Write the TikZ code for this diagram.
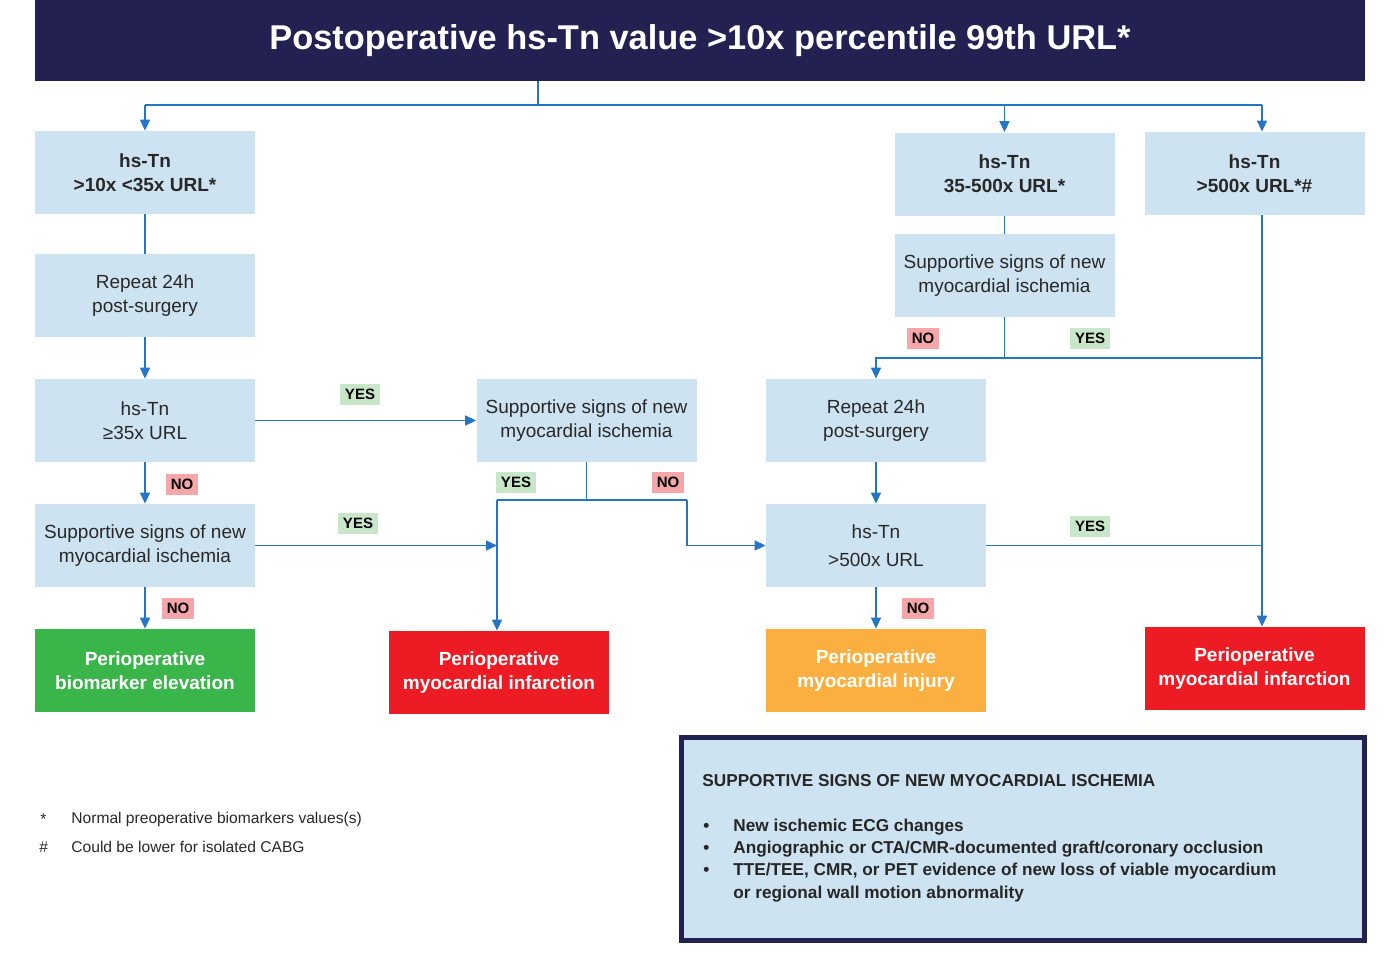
\documentclass[tikz,border=0pt]{standalone}
\usepackage{fontspec}
\setmainfont{Liberation Sans}
\usetikzlibrary{arrows.meta}
\definecolor{navy}{RGB}{35,33,82}
\definecolor{boxblue}{RGB}{205,227,241}
\definecolor{linkblue}{RGB}{36,118,196}
\definecolor{outgreen}{RGB}{58,181,74}
\definecolor{outred}{RGB}{237,28,36}
\definecolor{outorange}{RGB}{250,175,64}
\definecolor{yesgreen}{RGB}{200,231,201}
\definecolor{nopink}{RGB}{246,166,168}
\definecolor{inktext}{RGB}{40,40,40}

\begin{document}
\begin{tikzpicture}[x=0.5pt,y=-0.5pt,
    flowbox/.style={fill=boxblue,text=inktext,minimum width=110pt,minimum height=41.5pt,
      align=center,inner sep=2pt,font=\fontsize{9.5}{12}\selectfont},
    keybox/.style={flowbox,font=\fontsize{9.5}{12}\selectfont\bfseries},
    endbox/.style={flowbox,text=white,font=\fontsize{9.5}{12}\selectfont\bfseries,fill=#1},
    yesbox/.style={fill=yesgreen,inner xsep=2.5pt,inner ysep=0pt,minimum height=10.5pt,
      font=\fontsize{7.5}{9}\selectfont\bfseries},
    nobox/.style={yesbox,fill=nopink},
    link/.style={linkblue,line width=0.75pt},
    arr/.style={link,-{Triangle[length=5.5pt,width=5pt]}},
    note/.style={anchor=west,inner sep=0pt,text=inktext,font=\fontsize{7.8}{9}\selectfont},
    sign/.style={anchor=west,inner sep=0pt,text=black!85,font=\fontsize{8.6}{10}\selectfont\bfseries}]
  \useasboundingbox (0,0) rectangle (1387,971);

  % header
  \node[fill=navy,text=white,minimum width=665pt,minimum height=40.5pt,
    font=\fontsize{17.2}{20}\selectfont\bfseries] (title) at (700,40.5)
    {\raisebox{-1.5pt}{Postoperative hs-Tn value >10x percentile 99th URL*}};

  % left column
  \node[keybox] (a1) at (145,172.5) {hs-Tn\\>10x <35x URL*};
  \node[flowbox] (a2) at (145,295.5) {Repeat 24h\\post-surgery};
  \node[flowbox] (a3) at (145,420.5) {hs-Tn\\≥35x URL};
  \node[flowbox] (a4) at (145,545.5) {Supportive signs of new\\myocardial ischemia};
  \node[endbox=outgreen] (a5) at (145,670.5) {Perioperative\\biomarker elevation};

  % middle
  \node[flowbox] (b1) at (586.5,420.5) {Supportive signs of new\\myocardial ischemia};
  \node[endbox=outred] (b2) at (499,672.5) {Perioperative\\myocardial infarction};

  % right columns
  \node[keybox] (c1) at (1004.5,174) {hs-Tn\\35-500x URL*};
  \node[flowbox] (c2) at (1004.5,275.5) {Supportive signs of new\\myocardial ischemia};
  \node[flowbox] (c3) at (876,420.5) {Repeat 24h\\post-surgery};
  \node[flowbox,font=\fontsize{9.5}{14}\selectfont] (c4) at (876,545.5) {hs-Tn\\>500x URL};
  \node[endbox=outorange] (c5) at (876,670.5) {Perioperative\\myocardial injury};
  \node[keybox] (d1) at (1254.5,173.5) {hs-Tn\\>500x URL*\#};
  \node[endbox=outred] (d2) at (1254.5,668.5) {Perioperative\\myocardial infarction};

  % connectors
  \coordinate (tl) at (145,105);
  \coordinate (tr) at (1262,105);
  \coordinate (ts) at (538,105);
  \coordinate (bl) at (497,500);
  \coordinate (br) at (687,500);
  \coordinate (cs) at (1004.5,358);
  \draw[link] (title.south -| ts) -- (ts);
  \draw[link] (tl) -- (tr);
  \draw[arr] (tl) -- (a1.north);
  \draw[arr] (c1.north |- tl) -- (c1.north);
  \draw[arr] (tr) -- (tr |- d1.north);
  \draw[link] (a1) -- (a2);
  \draw[arr] (a2) -- (a3);
  \draw[arr] (a3) -- (a4);
  \draw[arr] (a4) -- (a5);
  \draw[arr] (a3) -- (b1);
  \draw[arr] (a4.east) -- (a4.east -| bl);
  \draw[link] (b1.south) -- (b1.south |- bl);
  \draw[link] (bl) -- (br);
  \draw[arr] (bl) -- (bl |- b2.north);
  \draw[arr] (br) |- (c4.west);
  \draw[link] (c1) -- (c2);
  \draw[link] (c2.south) -- (cs);
  \draw[arr] (cs -| tr) -| (c3.north);
  \draw[arr] (tr |- d1.south) -- (tr |- d2.north);
  \draw[arr] (c3) -- (c4);
  \draw[arr] (c4) -- (c5);
  \draw[link] (c4.east) -- (c4.east -| tr);

  % answers
  \node[yesbox] (y1) at (360,394.5) {YES};
  \node[yesbox] (y2) at (358,523.5) {YES};
  \node[yesbox] (y3) at (516,482) {YES};
  \node[yesbox] (y4) at (1090,338) {YES};
  \node[yesbox] (y5) at (1090,526) {YES};
  \node[nobox] (n1) at (182,484) {NO};
  \node[nobox] (n2) at (178,608) {NO};
  \node[nobox] (n3) at (668,482) {NO};
  \node[nobox] (n4) at (923,338) {NO};
  \node[nobox] (n5) at (918,608) {NO};

  % footnotes
  \node[note] (f1) at (40,819) {*};
  \node[note] (f1t) at (71,819) {Normal preoperative biomarkers values(s)};
  \node[note] (f2) at (39,847) {\#};
  \node[note] (f2t) at (71,847) {Could be lower for isolated CABG};

  % supportive signs legend
  \node[draw=navy,line width=2.5pt,fill=boxblue,minimum width=341.5pt,minimum height=101.5pt]
    (signs) at (1023,839) {};
  \node[sign] (s0) at (702,781) {SUPPORTIVE SIGNS OF NEW MYOCARDIAL ISCHEMIA};
  \foreach \yy/\txt [count=\i] in {827/{New ischemic ECG changes},
      849/{Angiographic or CTA/CMR-documented graft/coronary occlusion},
      871/{TTE/TEE, CMR, or PET evidence of new loss of viable myocardium}}{
    \node[sign] (b\i) at (703,\yy) {•};
    \node[sign] (s\i) at (733,\yy) {\txt};
  }
  \node[sign] (s4) at (733,894) {or regional wall motion abnormality};
\end{tikzpicture}
\end{document}
